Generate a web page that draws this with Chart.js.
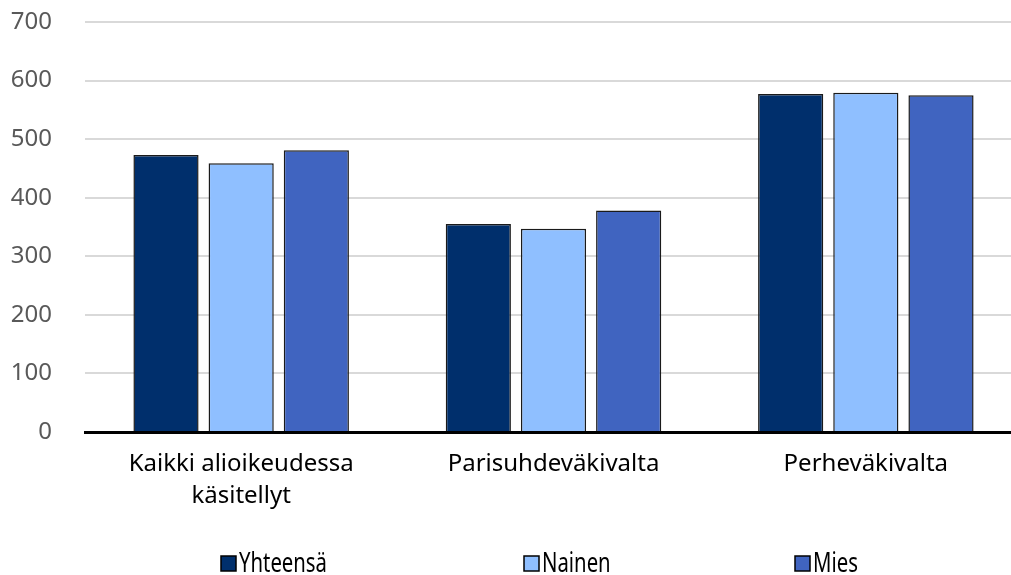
<!DOCTYPE html>
<html>
<head>
<meta charset="utf-8">
<script src="https://cdn.jsdelivr.net/npm/chart.js@4/dist/chart.umd.min.js"></script>
<style>
  html, body { margin: 0; padding: 0; background: #fff; overflow: hidden; }
  #wrap { width: 1022px; height: 575px; }
</style>
</head>
<body>
<div id="wrap"><canvas id="barChart"></canvas></div>
<script>
// Chart data
const categories = [['Kaikki alioikeudessa', 'käsitellyt'], 'Parisuhdeväkivalta', 'Perheväkivalta'];
const totalValues = [473, 355, 577];
const womenValues = [459, 347, 579];
const menValues = [481, 378, 575];
const yTicks = [0, 100, 200, 300, 400, 500, 600, 700];

const fontFamily = "'Noto Sans', 'Open Sans', sans-serif";

// Bottom legend drawn by hand (wide, evenly slotted like the original)
const legendSlots = [221, 524, 795];
const bottomLegend = {
    id: 'bottomLegend',
    afterDraw(chart) {
        const c = chart.ctx;
        c.save();
        c.font = `27px ${fontFamily}`;
        c.textBaseline = 'middle';
        const squeeze = 88 / c.measureText('Yhteensä').width;
        chart.data.datasets.forEach((ds, i) => {
            const x = legendSlots[i];
            const y = 563;
            c.fillStyle = ds.backgroundColor;
            c.fillRect(x, y - 7, 15, 15);
            c.strokeStyle = '#000';
            c.lineWidth = 1.5;
            c.strokeRect(x, y - 7, 15, 15);
            c.save();
            c.translate(x + 18, y);
            c.scale(squeeze, 1);
            c.fillStyle = '#000';
            c.fillText(ds.label, 0, 1);
            c.restore();
        });
        c.restore();
    }
};

const ctx = document.getElementById('barChart').getContext('2d');
const barChart = new Chart(ctx, {
    type: 'bar',
    data: {
        labels: categories,
        datasets: [
            {
                label: 'Yhteensä',
                data: totalValues,
                backgroundColor: '#002f6c',
                borderColor: '#1a1a1a',
                borderWidth: 1.5
            },
            {
                label: 'Nainen',
                data: womenValues,
                backgroundColor: '#8fbfff',
                borderColor: '#1a1a1a',
                borderWidth: 1.5
            },
            {
                label: 'Mies',
                data: menValues,
                backgroundColor: '#4064c0',
                borderColor: '#1a1a1a',
                borderWidth: 1.5
            }
        ]
    },
    options: {
        responsive: true,
        maintainAspectRatio: false,
        animation: false,
        layout: {
            padding: { top: 22, right: 0, left: 0, bottom: 0 }
        },
        datasets: {
            bar: {
                categoryPercentage: 0.722,
                barPercentage: 0.867
            }
        },
        plugins: {
            title: { display: false },
            tooltip: { enabled: false },
            legend: { display: false }
        },
        scales: {
            x: {
                afterFit(axis) {
                    axis.height = 143;
                },
                grid: { display: false, drawTicks: false },
                border: { display: true, color: '#000', width: 3 },
                ticks: {
                    color: '#000',
                    padding: 17,
                    font: { family: fontFamily, size: 24, lineHeight: 1.3 }
                }
            },
            y: {
                min: 0,
                max: 700,
                afterFit(axis) {
                    axis.width = 85;
                    axis.paddingTop = 0;
                    axis.paddingBottom = 0;
                },
                afterBuildTicks(axis) {
                    axis.ticks = yTicks.map(v => ({ value: v }));
                },
                grid: {
                    color: '#d9d9d9',
                    lineWidth: 2,
                    drawTicks: false
                },
                border: { display: false },
                ticks: {
                    autoSkip: false,
                    color: '#595959',
                    padding: 33,
                    font: { family: fontFamily, size: 24 }
                }
            }
        }
    },
    plugins: [bottomLegend]
});
</script>
</body>
</html>
